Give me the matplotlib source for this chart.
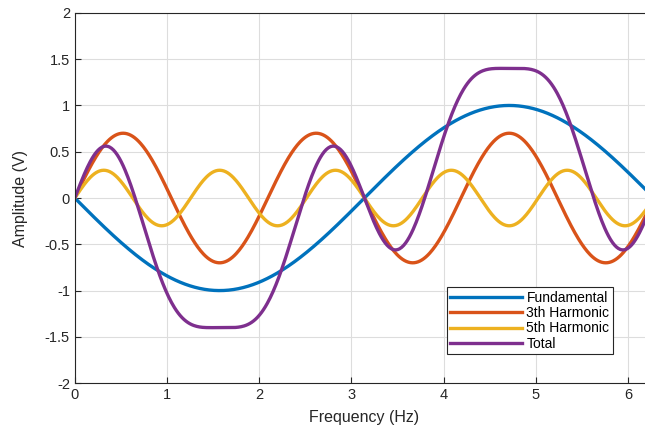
import numpy as np
import matplotlib.pyplot as plt

plt.rcParams['font.family'] = ['Liberation Sans', 'DejaVu Sans']

# harmonic components (order, peak amplitude)
labels = ['Fundamental', '3th Harmonic', '5th Harmonic']
orders = [1, 3, 5]
amplitudes = [-1.0, 0.7, 0.3]
colors = ['#0072BD', '#D95319', '#EDB120', '#7E2F8E']

x = np.linspace(0, 2 * np.pi, 600)
waves = [a * np.sin(n * x) for n, a in zip(orders, amplitudes)]
total = np.sum(waves, axis=0)

fig = plt.figure(figsize=(6.45, 4.3), dpi=100)
ax = fig.add_axes([0.116, 0.109, 0.898, 0.861])

for w, lab, c in zip(waves, labels, colors):
    ax.plot(x, w, color=c, lw=2.4, label=lab)
ax.plot(x, total, color=colors[3], lw=2.4, label='Total')

ax.set_xlim(0, 2 * np.pi)
ax.set_ylim(-2, 2)
ax.set_xticks(range(0, 7))
ax.set_yticks(np.arange(-2, 2.01, 0.5))
ax.set_yticklabels(['-2', '-1.5', '-1', '-0.5', '0', '0.5', '1', '1.5', '2'])
ax.grid(True, color='#dddddd', lw=0.8)
ax.tick_params(direction='in', labelsize=10.5, colors='#262626', length=4)
for s in ax.spines.values():
    s.set_color('#262626')
    s.set_linewidth(0.8)
ax.set_xlabel('Frequency (Hz)', fontsize=11.5, color='#262626', labelpad=6)
ax.set_ylabel('Amplitude (V)', fontsize=11.5, color='#262626', labelpad=12)

leg = ax.legend(loc='lower right', bbox_to_anchor=(0.929, 0.078), fontsize=10,
                fancybox=False, framealpha=1, edgecolor='#262626',
                borderpad=0.25, labelspacing=0.1, handlelength=5.2,
                handletextpad=0.3, borderaxespad=0)
leg.get_frame().set_linewidth(0.8)

plt.savefig('out.png')
